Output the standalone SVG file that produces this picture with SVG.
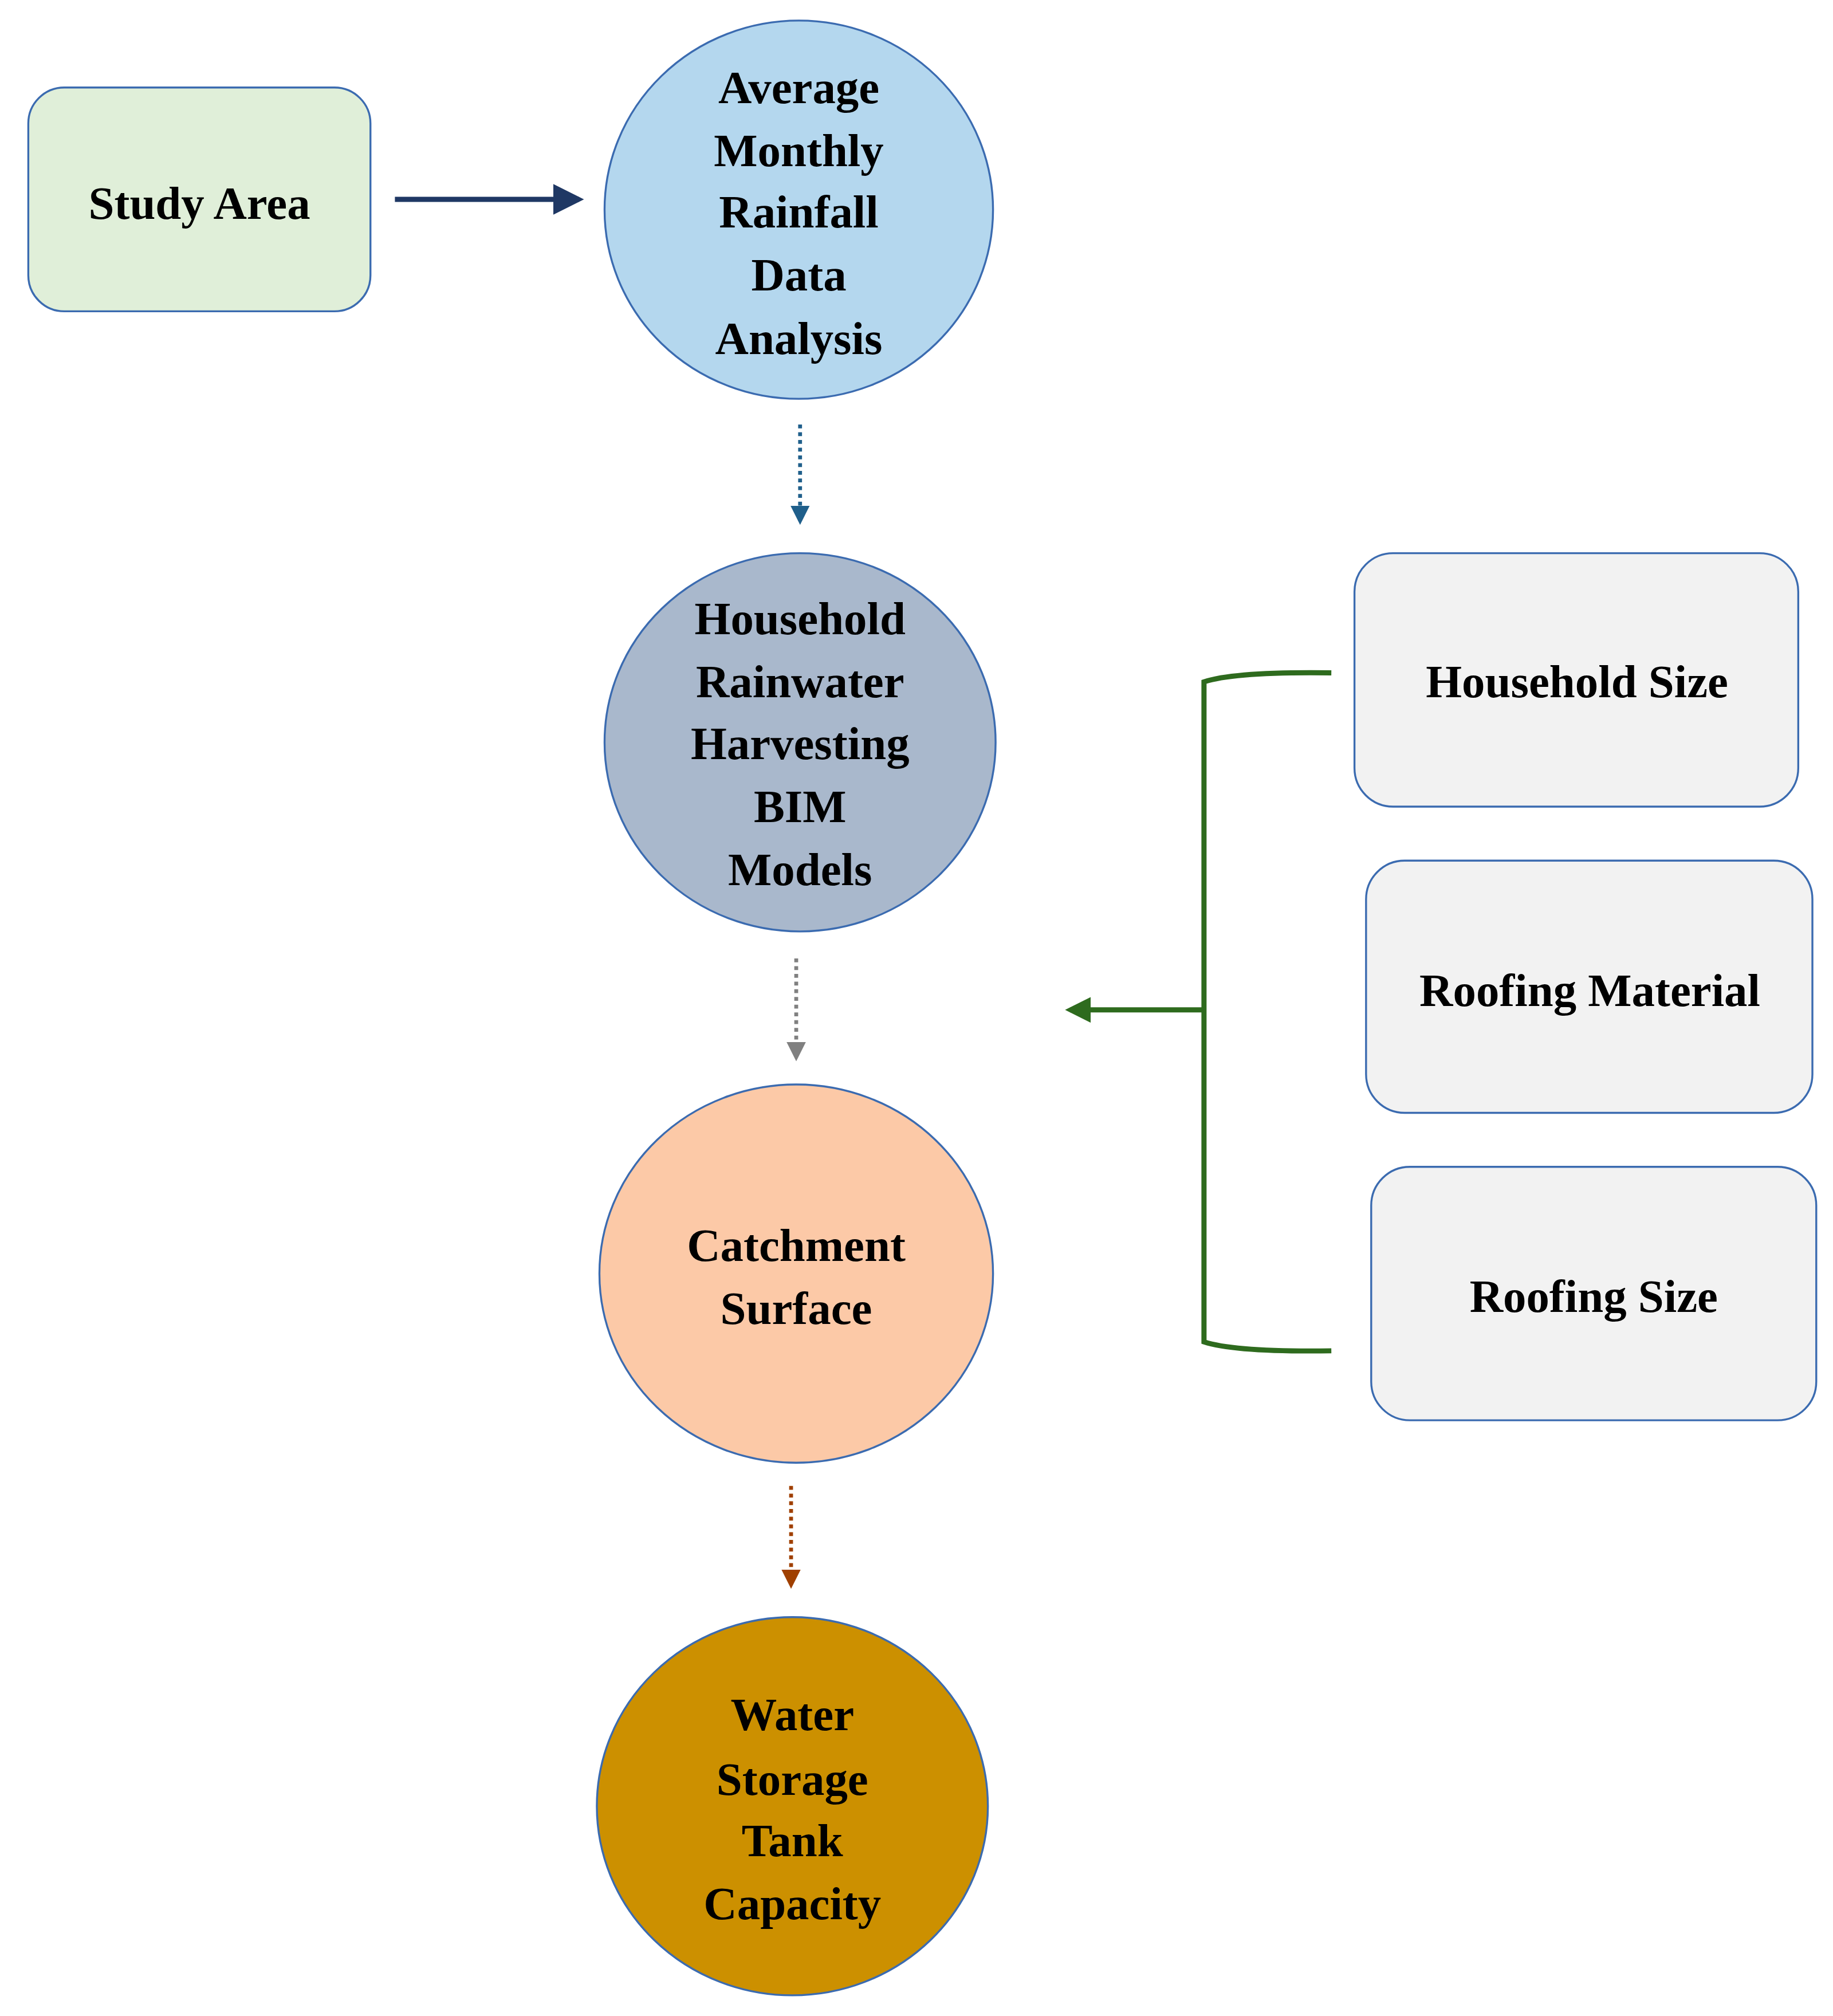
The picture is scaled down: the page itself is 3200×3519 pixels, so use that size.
<svg xmlns="http://www.w3.org/2000/svg" width="3200" height="3519" viewBox="0 0 3200 3519">
<style>
.t{font-family:"Liberation Serif","Times New Roman",serif;font-weight:bold;font-size:36px;fill:#000;text-anchor:middle}
.n{stroke:#3b6bb0;stroke-width:1.5}
.box{fill:#f2f2f2;stroke:#3b6bb0;stroke-width:1.5}
</style>
<defs>
<marker id="mNavy" markerWidth="6" markerHeight="6" refX="5" refY="3" orient="auto" markerUnits="strokeWidth"><path d="M0,0 L6,3 L0,6 z" fill="#1f3864"/></marker>
<marker id="mBlue" markerWidth="5" markerHeight="5" refX="4" refY="2.5" orient="auto" markerUnits="strokeWidth"><path d="M0,0 L5,2.5 L0,5 z" fill="#1f5f8b"/></marker>
<marker id="mGray" markerWidth="5" markerHeight="5" refX="4" refY="2.5" orient="auto" markerUnits="strokeWidth"><path d="M0,0 L5,2.5 L0,5 z" fill="#808080"/></marker>
<marker id="mBrown" markerWidth="5" markerHeight="5" refX="4" refY="2.5" orient="auto" markerUnits="strokeWidth"><path d="M0,0 L5,2.5 L0,5 z" fill="#a04000"/></marker>
<marker id="mGreen" markerWidth="5" markerHeight="5" refX="4" refY="2.5" orient="auto" markerUnits="strokeWidth"><path d="M0,0 L5,2.5 L0,5 z" fill="#2e6b1e"/></marker>
</defs>
<rect width="3200" height="3519" fill="#fff"/>
<g transform="scale(2.2456)">
<g id="connectors" fill="none">
<line x1="307" y1="155" x2="450" y2="155" stroke="#1f3864" stroke-width="4" marker-end="url(#mNavy)"/>
<line x1="622" y1="330" x2="622" y2="405" stroke="#1f5f8b" stroke-width="3" stroke-dasharray="3,3" marker-end="url(#mBlue)"/>
<line x1="619" y1="745" x2="619" y2="822" stroke="#808080" stroke-width="3" stroke-dasharray="3,3" marker-end="url(#mGray)"/>
<line x1="615" y1="1155" x2="615" y2="1232" stroke="#a04000" stroke-width="3" stroke-dasharray="3,3" marker-end="url(#mBrown)"/>
<path d="M1035,523 Q960,522 936,530 L936,1043 Q960,1051 1035,1050" stroke="#2e6b1e" stroke-width="4"/>
<line x1="936" y1="785" x2="832" y2="785" stroke="#2e6b1e" stroke-width="4" marker-end="url(#mGreen)"/>
</g>
<g id="study-area"><rect x="22" y="68" width="266" height="174" rx="28" fill="#e0efd9" class="n"/><text class="t" x="155" y="170">Study Area</text></g>
<g id="rainfall"><ellipse cx="621" cy="163" rx="151" ry="147" fill="#b4d7ee" class="n"/>
<text class="t" x="621" y="80">Average</text><text class="t" x="621" y="129">Monthly</text><text class="t" x="621" y="177">Rainfall</text><text class="t" x="621" y="226">Data</text><text class="t" x="621" y="275">Analysis</text></g>
<g id="bim"><ellipse cx="622" cy="577" rx="152" ry="147" fill="#a9b8cc" class="n"/>
<text class="t" x="622" y="493">Household</text><text class="t" x="622" y="542">Rainwater</text><text class="t" x="622" y="590">Harvesting</text><text class="t" x="622" y="639">BIM</text><text class="t" x="622" y="688">Models</text></g>
<g id="catchment"><ellipse cx="619" cy="990" rx="153" ry="147" fill="#fcc9a7" class="n"/>
<text class="t" x="619" y="980">Catchment</text><text class="t" x="619" y="1029">Surface</text></g>
<g id="tank"><ellipse cx="616" cy="1404" rx="152" ry="147" fill="#cc9000" class="n"/>
<text class="t" x="616" y="1345">Water</text><text class="t" x="616" y="1395">Storage</text><text class="t" x="616" y="1443">Tank</text><text class="t" x="616" y="1492">Capacity</text></g>
<g id="household-size"><rect x="1053" y="430" width="345" height="197" rx="30" class="box"/><text class="t" x="1226" y="542">Household Size</text></g>
<g id="roofing-material"><rect x="1062" y="669" width="347" height="196" rx="30" class="box"/><text class="t" x="1236" y="782">Roofing Material</text></g>
<g id="roofing-size"><rect x="1066" y="907" width="346" height="197" rx="30" class="box"/><text class="t" x="1239" y="1020">Roofing Size</text></g>
</g>
</svg>
